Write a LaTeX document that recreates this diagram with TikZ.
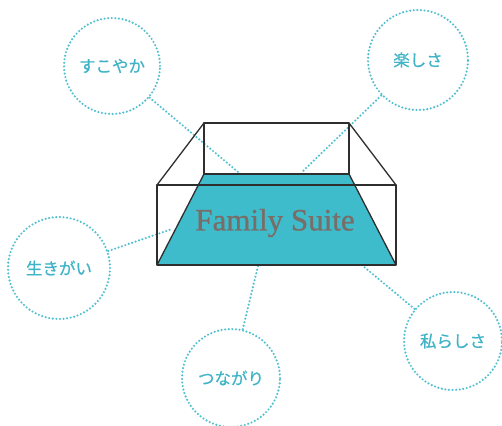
\documentclass[tikz,border=0pt]{standalone}
\usepackage{fontspec}
\setmainfont{Liberation Serif}
\newfontfamily\titlefont[FakeBold=0.8]{Liberation Serif}
\newfontfamily\jpfont[FakeBold=0.6]{Noto Sans CJK JP}
\definecolor{teal1}{HTML}{3FBCCB}
\definecolor{tealtext}{HTML}{40B3C6}
\definecolor{dotc}{HTML}{52C0D0}
\definecolor{boxline}{HTML}{2E2E2E}
\definecolor{titlec}{HTML}{7A6C66}
\tikzset{
  bubble/.style={circle, draw=dotc, line width=2.4pt, dash pattern=on 0pt off 3.6pt, line cap=round,
     minimum size=#1, inner sep=0pt, text=tealtext, font=\jpfont\fontsize{16.5}{18}\selectfont},
  conn/.style={draw=dotc, line width=2.4pt, dash pattern=on 0pt off 3.6pt, line cap=round},
  boxedge/.style={draw=boxline, line width=1.3pt, line join=round}
}
\begin{document}
\begin{tikzpicture}[x=1pt,y=-1pt]
\useasboundingbox (0,0) rectangle (502,425);
% bubbles
\node[bubble=96pt] (sukoyaka) at (112,66) {すこやか};
\node[bubble=100pt] (tanoshisa) at (418,60) {楽しさ};
\node[bubble=102pt] (ikigai) at (59,268) {生きがい};
\node[bubble=98pt] (tsunagari) at (231,378) {つながり};
\node[bubble=98pt] (watashi) at (453,341) {私らしさ};
% box corner coordinates
\coordinate (btl) at (204,123);
\coordinate (btr) at (349,123);
\coordinate (bbl) at (204,174);
\coordinate (bbr) at (349,174);
\coordinate (ftl) at (157,185);
\coordinate (ftr) at (396,185);
\coordinate (fbl) at (157,265);
\coordinate (fbr) at (396,265);
% connector ends
\coordinate (e1) at (238,172);
\coordinate (e2) at (302,172);
\coordinate (e3) at (172,229);
\coordinate (e4) at (258,266);
\coordinate (e5) at (363,266);
\draw[conn] (sukoyaka) -- (e1);
\draw[conn] (tanoshisa) -- (e2);
\draw[conn] (ikigai) -- (e3);
\draw[conn] (tsunagari) -- (e4);
\draw[conn] (watashi) -- (e5);
% floor
\fill[teal1] (bbl) -- (bbr) -- (fbr) -- (fbl) -- cycle;
% box edges
\draw[boxedge] (bbl) -- (btl) -- (btr) -- (bbr) -- cycle;
\draw[boxedge] (ftl) rectangle (fbr);
\draw[boxedge] (btl) -- (ftl);
\draw[boxedge] (btr) -- (ftr);
\draw[boxedge] (bbl) -- (fbl);
\draw[boxedge] (bbr) -- (fbr);
\node[text=titlec, font=\titlefont\fontsize{31}{34}\selectfont, inner sep=0pt] (title) at (275,223) {Family Suite};
\end{tikzpicture}
\end{document}
